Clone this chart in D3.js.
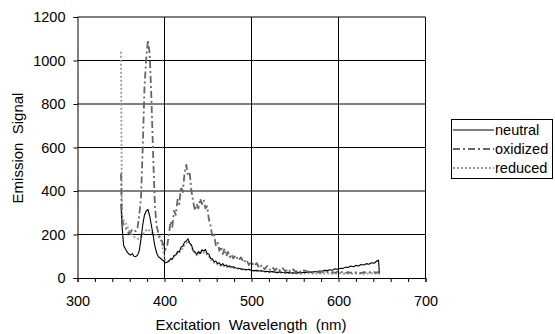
<!DOCTYPE html>
<html><head><meta charset="utf-8">
<script src="https://cdn.jsdelivr.net/npm/d3@7"></script>
<style>
html,body{margin:0;padding:0;background:#fff;}
text{font-family:"Liberation Sans",Arial,sans-serif;white-space:pre;}
</style></head>
<body>
<svg id="chart" width="555" height="334"></svg>
<script>
const wavelengths = [350,351,353,355,357,359,361,363,365,367,369,371,373,375,377,379,381,383,385,387,389,391,393,395,397,399,401,403,405,407,409,411,413,415,417,419,421,423,425,427,429,431,433,435,437,439,441,443,445,447,449,451,453,455,457,459,461,463,465,467,469,471,473,475,477,479,482,485,488,491,494,497,500,503,506,509,512,515,518,521,524,527,530,533,536,539,542,545,548,551,554,557,560,563,566,569,572,575,578,581,584,587,590,593,596,599,602,605,608,611,614,617,620,623,626,629,632,635,638,641,644,646,647];

const neutral = [340,250,150,135,120,110,105,112,100,98,105,125,180,245,290,308,315,285,240,195,145,115,98,92,85,78,70,72,
 78,88,86,104,106,122,120,142,146,165,170,180,160,152,125,120,108,122,112,130,124,132,112,110,90,88,75,78,66,70,58,66,56,60,52,56,50,52,
 46,45,42,40,38,40,36,34,35,32,33,30,31,28,30,27,26,28,25,24,26,23,24,22,25,24,26,25,28,27,30,29,32,31,35,34,38,36,42,40,45,44,50,48,55,52,58,55,62,60,66,63,70,68,78,
 82,20];

const oxidized = [480,270,245,235,215,205,210,225,220,215,230,290,370,600,880,1010,1095,1030,820,560,330,240,205,185,170,150,130,145,
 200,260,235,310,290,360,340,420,395,480,520,470,480,400,350,310,340,320,365,340,360,320,330,270,240,190,200,150,165,125,145,110,135,100,120,95,110,90,
 105,80,95,70,85,60,75,55,68,45,60,40,55,38,50,35,48,33,45,30,42,28,40,27,38,25,35,
 32,27,31,26,30,25,29,24,28,23,27,24,29,25,28,23,27,24,29,25,28,22,27,24,28,23,27,25,
 28,22];

const reduced = [1040,290,265,255,240,220,205,195,190,185,180,182,190,200,210,220,225,215,210,205,200,195,190,180,160,110,80,75,
 76,86,90,100,104,116,114,130,136,152,160,172,155,148,122,118,104,116,108,122,116,120,104,100,84,82,70,72,62,64,54,58,50,52,46,50,44,46,
 44,42,40,38,36,37,34,32,33,30,31,28,29,26,28,25,24,26,23,22,24,21,22,20,22,19,21,20,22,19,21,20,22,19,21,20,22,19,21,20,22,19,21,20,22,19,21,20,22,19,21,20,22,19,21,
 20,18];

const seriesNames = ["neutral","oxidized","reduced"];
const xTicks = [300,400,500,600,700];
const yTicks = [0,200,400,600,800,1000,1200];

const svg = d3.select("#chart");
const x = d3.scaleLinear().domain([300,700]).range([77.5,425.5]);
const y = d3.scaleLinear().domain([0,1200]).range([278,17]);

// gridlines
svg.append("g").selectAll("line").data(yTicks.slice(1)).join("line")
  .attr("x1",x(300)).attr("x2",x(700)).attr("y1",d=>y(d)).attr("y2",d=>y(d))
  .attr("stroke","#000").attr("stroke-width",1);
svg.append("g").selectAll("line").data(xTicks.slice(1)).join("line")
  .attr("x1",d=>x(d)).attr("x2",d=>x(d)).attr("y1",y(1200)).attr("y2",y(0))
  .attr("stroke","#000").attr("stroke-width",1);

// axes
const xAxis = d3.axisBottom(x).tickValues(d3.range(300,701,20))
  .tickFormat(d=> d%100===0 ? d : "").tickSize(4).tickPadding(14);
const gx = svg.append("g").attr("transform",`translate(0,${y(0)})`).call(xAxis);
gx.select(".domain").attr("stroke","#000");
gx.selectAll(".tick line").attr("stroke","#000");
gx.selectAll("text").attr("font-size","14.5px").attr("fill","#000").attr("font-family","Liberation Sans, Arial, sans-serif");

const yAxis = d3.axisLeft(y).tickValues(yTicks).tickFormat(d3.format("d")).tickSize(4).tickPadding(8);
const gy = svg.append("g").attr("transform",`translate(${x(300)},0)`).call(yAxis);
gy.select(".domain").attr("stroke","#000");
gy.selectAll(".tick line").attr("stroke","#000");
gy.selectAll("text").attr("font-size","14.5px").attr("fill","#000").attr("font-family","Liberation Sans, Arial, sans-serif");

// series
const styles = {
  neutral:{color:"#000", width:1.1, dash:null},
  oxidized:{color:"#666", width:1.8, dash:"7,3,2,3"},
  reduced:{color:"#999", width:1.8, dash:"2,2"}
};
const data = {neutral, oxidized, reduced};
const line = d3.line().x((d,i)=>x(wavelengths[i])).y(d=>y(d));
["reduced","neutral","oxidized"].forEach(name=>{
  const s = styles[name];
  svg.append("path").datum(data[name]).attr("d",line)
    .attr("fill","none").attr("stroke",s.color).attr("stroke-width",s.width)
    .attr("stroke-dasharray",s.dash).attr("stroke-linejoin","round");
});

// axis titles
svg.append("text").attr("x",251).attr("y",330).attr("text-anchor","middle")
  .attr("font-size","15px").attr("fill","#000").text("Excitation  Wavelength  (nm)");
svg.append("text").attr("transform","translate(22.5,148) rotate(-90)").attr("text-anchor","middle")
  .attr("font-size","15px").attr("fill","#000").text("Emission  Signal");

// legend
const lg = svg.append("g");
lg.append("rect").attr("x",451.5).attr("y",119.5).attr("width",101).attr("height",59)
  .attr("fill","#fff").attr("stroke","#000").attr("stroke-width",1);
seriesNames.forEach((name,i)=>{
  const yy = 130 + i*19;
  const s = styles[name];
  lg.append("line").attr("x1",453).attr("x2",494).attr("y1",yy).attr("y2",yy)
    .attr("stroke",s.color).attr("stroke-width",s.width).attr("stroke-dasharray",s.dash);
  lg.append("text").attr("x",495).attr("y",yy).attr("dy","0.35em")
    .attr("font-size","14.5px").attr("fill","#000").text(name);
});
</script>
</body></html>
